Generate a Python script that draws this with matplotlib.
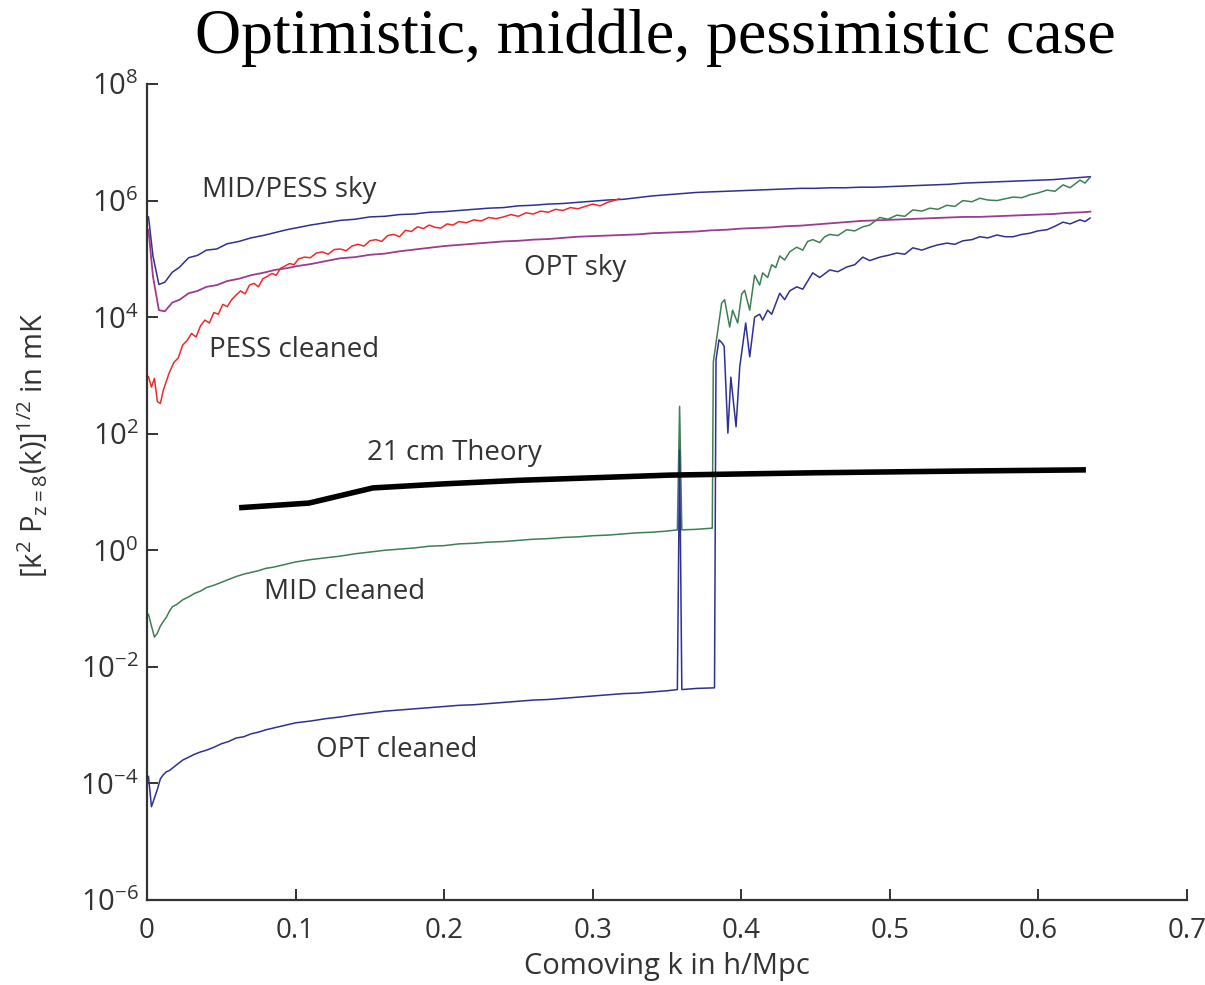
import numpy as np
import matplotlib
matplotlib.use("Agg")
import matplotlib.pyplot as plt
from matplotlib.ticker import FixedLocator, FuncFormatter, NullLocator

plt.rcParams['font.family'] = ['Open Sans', 'DejaVu Sans']
plt.rcParams['mathtext.fontset'] = 'custom'
plt.rcParams['mathtext.rm'] = 'Open Sans'
plt.rcParams['mathtext.it'] = 'Open Sans'
plt.rcParams['mathtext.bf'] = 'Open Sans'

# ---------------- data (log10 of value in mK) ----------------
K_SKY = [0.001, 0.004, 0.008, 0.012, 0.017, 0.022, 0.028, 0.034, 0.040, 0.047, 0.054,
         0.062, 0.070, 0.078, 0.086, 0.094, 0.102, 0.110, 0.120, 0.130, 0.140, 0.150,
         0.160, 0.170, 0.180, 0.190, 0.200, 0.210, 0.220, 0.230, 0.240, 0.250, 0.260,
         0.270, 0.280, 0.290, 0.300, 0.310, 0.320, 0.330, 0.340, 0.350, 0.360, 0.370,
         0.380, 0.390, 0.400, 0.410, 0.420, 0.430, 0.440, 0.450, 0.460, 0.470, 0.480,
         0.490, 0.500, 0.510, 0.520, 0.530, 0.540, 0.550, 0.560, 0.570, 0.580, 0.590,
         0.600, 0.610, 0.620, 0.630, 0.635]

MID_PESS_SKY = [5.72, 5.05, 4.56, 4.60, 4.77, 4.86, 5.02, 5.06, 5.15, 5.17, 5.26,
                5.30, 5.36, 5.40, 5.45, 5.50, 5.54, 5.58, 5.62, 5.66, 5.68, 5.72,
                5.73, 5.76, 5.77, 5.80, 5.81, 5.83, 5.85, 5.87, 5.88, 5.91, 5.92,
                5.94, 5.95, 5.97, 5.99, 6.01, 6.02, 6.05, 6.08, 6.10, 6.12, 6.14,
                6.15, 6.16, 6.17, 6.18, 6.19, 6.20, 6.21, 6.21, 6.22, 6.22, 6.23,
                6.23, 6.24, 6.25, 6.26, 6.27, 6.28, 6.30, 6.31, 6.32, 6.33, 6.34,
                6.35, 6.36, 6.38, 6.40, 6.41]

OPT_SKY = [5.50, 4.70, 4.12, 4.10, 4.25, 4.30, 4.41, 4.45, 4.52, 4.55, 4.62,
           4.66, 4.72, 4.76, 4.81, 4.84, 4.88, 4.91, 4.96, 5.01, 5.03, 5.07,
           5.09, 5.13, 5.16, 5.19, 5.22, 5.24, 5.26, 5.28, 5.30, 5.31, 5.33,
           5.34, 5.36, 5.38, 5.39, 5.40, 5.41, 5.42, 5.44, 5.45, 5.46, 5.47,
           5.49, 5.50, 5.52, 5.53, 5.54, 5.56, 5.57, 5.59, 5.61, 5.63, 5.65,
           5.66, 5.67, 5.68, 5.69, 5.70, 5.71, 5.72, 5.72, 5.73, 5.74, 5.75,
           5.76, 5.77, 5.79, 5.80, 5.81]

K_PESS_CL = [0.001, 0.003, 0.005, 0.007, 0.009, 0.011, 0.013, 0.015, 0.018, 0.021,
             0.024, 0.027, 0.030, 0.033, 0.036, 0.039, 0.042, 0.045, 0.048, 0.051,
             0.054, 0.057, 0.060, 0.063, 0.066, 0.069, 0.072, 0.075, 0.078, 0.081,
             0.084, 0.087, 0.090, 0.093, 0.096, 0.099, 0.102, 0.106, 0.110, 0.114,
             0.118, 0.122, 0.126, 0.130, 0.134, 0.138, 0.142, 0.146, 0.150, 0.154,
             0.158, 0.162, 0.166, 0.170, 0.174, 0.178, 0.182, 0.186, 0.190, 0.194,
             0.198, 0.202, 0.206, 0.210, 0.215, 0.220, 0.225, 0.230, 0.235, 0.240,
             0.245, 0.250, 0.255, 0.260, 0.265, 0.270, 0.275, 0.280, 0.285, 0.290,
             0.295, 0.300, 0.305, 0.310, 0.314, 0.318]
PESS_CLEANED = [2.98, 2.80, 2.95, 2.55, 2.52, 2.75, 2.90, 3.05, 3.22, 3.30,
                3.52, 3.60, 3.72, 3.66, 3.85, 3.95, 3.90, 4.08, 4.05, 4.22,
                4.18, 4.30, 4.38, 4.45, 4.40, 4.55, 4.58, 4.52, 4.66, 4.70,
                4.75, 4.72, 4.84, 4.88, 4.92, 4.90, 5.00, 5.03, 5.02, 5.10,
                5.12, 5.08, 5.16, 5.17, 5.14, 5.22, 5.25, 5.22, 5.31, 5.33,
                5.30, 5.40, 5.42, 5.38, 5.49, 5.47, 5.55, 5.52, 5.58, 5.54,
                5.53, 5.60, 5.58, 5.64, 5.62, 5.67, 5.65, 5.71, 5.69, 5.72,
                5.76, 5.73, 5.79, 5.77, 5.82, 5.80, 5.85, 5.83, 5.88, 5.86,
                5.90, 5.94, 5.91, 5.97, 6.00, 6.03]

K_MID_CL = [0.001, 0.003, 0.005, 0.007, 0.009, 0.011, 0.013, 0.015, 0.017, 0.020,
            0.024, 0.028, 0.032, 0.036, 0.040, 0.045, 0.050, 0.055, 0.060, 0.065,
            0.070, 0.075, 0.080, 0.085, 0.090, 0.095, 0.100, 0.110, 0.120, 0.130,
            0.140, 0.150, 0.160, 0.170, 0.180, 0.190, 0.200, 0.210, 0.220, 0.230,
            0.240, 0.250, 0.260, 0.270, 0.280, 0.290, 0.300, 0.310, 0.320, 0.330,
            0.340, 0.350, 0.357, 0.3585, 0.360, 0.370, 0.3805, 0.3812, 0.3868, 0.3888,
            0.3922, 0.3942, 0.3976, 0.4003, 0.4023, 0.4057, 0.4090, 0.4124, 0.4144, 0.4178,
            0.4205, 0.4232, 0.4259, 0.4292, 0.4326, 0.4373, 0.4414, 0.4447, 0.4481, 0.4528,
            0.4562, 0.4596, 0.4650, 0.4710, 0.4764, 0.4818, 0.4865, 0.4933, 0.4987, 0.5047,
            0.5101, 0.5155, 0.5216, 0.5270, 0.5323, 0.5384, 0.5438, 0.5492, 0.5553, 0.5606,
            0.5660, 0.5721, 0.5775, 0.5829, 0.5890, 0.5943, 0.5997, 0.6058, 0.6112, 0.6166,
            0.6213, 0.6280, 0.6314, 0.6348]
MID_CLEANED = [-1.10, -1.30, -1.49, -1.42, -1.30, -1.22, -1.15, -1.05, -0.97, -0.93,
               -0.85, -0.80, -0.74, -0.70, -0.64, -0.60, -0.55, -0.50, -0.45, -0.41,
               -0.38, -0.35, -0.31, -0.29, -0.26, -0.23, -0.20, -0.16, -0.13, -0.10,
               -0.06, -0.03, 0.00, 0.02, 0.04, 0.07, 0.08, 0.11, 0.12, 0.14,
               0.15, 0.17, 0.19, 0.20, 0.22, 0.23, 0.25, 0.26, 0.28, 0.30,
               0.31, 0.33, 0.35, 2.47, 0.35, 0.36, 0.38, 3.23, 4.24, 4.30,
               3.83, 4.12, 3.90, 4.40, 4.46, 4.12, 4.72, 4.55, 4.76, 4.68,
               4.90, 4.85, 5.05, 4.98, 5.12, 5.20, 5.15, 5.30, 5.33, 5.28,
               5.38, 5.42, 5.40, 5.50, 5.48, 5.55, 5.58, 5.71, 5.68, 5.75,
               5.73, 5.84, 5.82, 5.87, 5.85, 5.92, 5.90, 6.00, 5.98, 6.04,
               6.01, 6.00, 6.03, 6.06, 6.05, 6.10, 6.13, 6.18, 6.16, 6.27,
               6.22, 6.35, 6.30, 6.40]

K_OPT_CL = [0.001, 0.003, 0.005, 0.007, 0.009, 0.011, 0.013, 0.015, 0.017, 0.020,
            0.024, 0.028, 0.032, 0.036, 0.040, 0.045, 0.050, 0.055, 0.060, 0.065,
            0.070, 0.075, 0.080, 0.085, 0.090, 0.095, 0.100, 0.110, 0.120, 0.130,
            0.140, 0.150, 0.160, 0.170, 0.180, 0.190, 0.200, 0.210, 0.220, 0.230,
            0.240, 0.250, 0.260, 0.270, 0.280, 0.290, 0.300, 0.310, 0.320, 0.330,
            0.340, 0.350, 0.357, 0.3585, 0.360, 0.370, 0.3820, 0.3830, 0.3850, 0.3870,
            0.3885, 0.3910, 0.3930, 0.3965, 0.3990, 0.4030, 0.4057, 0.4090, 0.4124, 0.4144,
            0.4178, 0.4205, 0.4259, 0.4292, 0.4326, 0.4373, 0.4414, 0.4481, 0.4528, 0.4596,
            0.4650, 0.4710, 0.4764, 0.4818, 0.4865, 0.4933, 0.4987, 0.5047, 0.5101, 0.5155,
            0.5216, 0.5270, 0.5323, 0.5384, 0.5438, 0.5492, 0.5553, 0.5606, 0.5660, 0.5721,
            0.5775, 0.5829, 0.5890, 0.5943, 0.5997, 0.6058, 0.6112, 0.6166, 0.6213, 0.6280,
            0.6314, 0.6348]
OPT_CLEANED = [-3.88, -4.40, -4.25, -4.10, -3.92, -3.85, -3.80, -3.78, -3.74, -3.68,
               -3.60, -3.55, -3.50, -3.46, -3.43, -3.38, -3.32, -3.28, -3.22, -3.20,
               -3.15, -3.12, -3.08, -3.05, -3.02, -2.99, -2.96, -2.93, -2.89, -2.86,
               -2.82, -2.79, -2.76, -2.74, -2.72, -2.70, -2.68, -2.66, -2.65, -2.63,
               -2.61, -2.59, -2.57, -2.56, -2.54, -2.52, -2.50, -2.48, -2.46, -2.45,
               -2.43, -2.41, -2.39, 1.72, -2.39, -2.37, -2.36, 3.27, 3.61, 3.56,
               3.50, 2.01, 2.97, 2.12, 3.15, 3.90, 3.32, 4.00, 4.05, 3.95,
               4.12, 4.05, 4.41, 4.30, 4.45, 4.52, 4.48, 4.76, 4.68, 4.81,
               4.78, 4.86, 4.90, 5.03, 4.97, 5.03, 5.06, 5.10, 5.08, 5.19,
               5.15, 5.20, 5.24, 5.27, 5.25, 5.31, 5.33, 5.38, 5.36, 5.41,
               5.38, 5.38, 5.42, 5.44, 5.48, 5.50, 5.56, 5.63, 5.60, 5.67,
               5.64, 5.70]

K_THEORY = [0.062, 0.109, 0.152, 0.200, 0.250, 0.352, 0.450, 0.550, 0.632]
THEORY_21CM = [0.73, 0.81, 1.07, 1.14, 1.20, 1.29, 1.33, 1.36, 1.38]

XTICKS = [0, 0.1, 0.2, 0.3, 0.4, 0.5, 0.6, 0.7]
YTICK_EXP = [-6, -4, -2, 0, 2, 4, 6, 8]

NAVY = '#2e3192'
GREEN = '#3f7f55'
RED = '#ee2a2a'
PURPLE = '#9c3c8e'
TXT = '#333333'

fig = plt.figure(figsize=(12.05, 9.85), dpi=100)
ax = fig.add_axes([0.122, 0.0863, 0.863, 0.8284])

def p(vals):
    return 10.0 ** np.asarray(vals)

ax.plot(K_SKY, p(MID_PESS_SKY), color=NAVY, lw=1.1)
ax.plot(K_SKY, p(OPT_SKY), color=PURPLE, lw=1.3)
ax.plot(K_PESS_CL, p(PESS_CLEANED), color=RED, lw=1.1)
ax.plot(K_MID_CL, p(MID_CLEANED), color=GREEN, lw=1.1)
ax.plot(K_OPT_CL, p(OPT_CLEANED), color=NAVY, lw=1.1)
ax.plot(K_THEORY, p(THEORY_21CM), color='black', lw=4.0, solid_capstyle='butt')

ax.set_yscale('log')
ax.set_xlim(0, 0.7)
ax.set_ylim(1e-6, 1e8)
ax.xaxis.set_major_locator(FixedLocator(XTICKS))
ax.xaxis.set_major_formatter(FuncFormatter(lambda v, pos: '0' if v == 0 else ('%.1f' % v)))
ax.yaxis.set_major_locator(FixedLocator([10.0 ** e for e in YTICK_EXP]))
ax.yaxis.set_minor_locator(NullLocator())
ax.yaxis.set_major_formatter(FuncFormatter(lambda v, pos: r'$10^{%d}$' % int(round(np.log10(v)))))

for s in ['top', 'right']:
    ax.spines[s].set_visible(False)
for s in ['left', 'bottom']:
    ax.spines[s].set_linewidth(1.6)
    ax.spines[s].set_color(TXT)
ax.tick_params(direction='in', length=8, width=1.4, colors=TXT, labelcolor=TXT)
ax.tick_params(axis='x', labelsize=20, pad=12)
ax.tick_params(axis='y', labelsize=21, pad=6)

ax.set_xlabel('Comoving k in h/Mpc', fontsize=21, color=TXT, labelpad=5)
ax.set_ylabel(r'[k$^2$ P$_{z=8}$(k)]$^{1/2}$ in mK', fontsize=21, color=TXT)
ax.yaxis.set_label_coords(-0.093, 0.557)

fig.text(0.544, 0.962, 'Optimistic, middle, pessimistic case', ha='center', va='center',
         fontsize=46, family='Liberation Serif', color='black')

lab = dict(fontsize=20, color=TXT, ha='center', va='center')
ax.text(0.0957, 10 ** 6.18, 'MID/PESS sky', **lab)
ax.text(0.288, 10 ** 4.84, 'OPT sky', **lab)
ax.text(0.099, 10 ** 3.44, 'PESS cleaned', **lab)
ax.text(0.207, 10 ** 1.67, '21 cm Theory', **lab)
ax.text(0.133, 10 ** -0.71, 'MID cleaned', **lab)
ax.text(0.168, 10 ** -3.42, 'OPT cleaned', **lab)

fig.savefig('out.png', dpi=100)
